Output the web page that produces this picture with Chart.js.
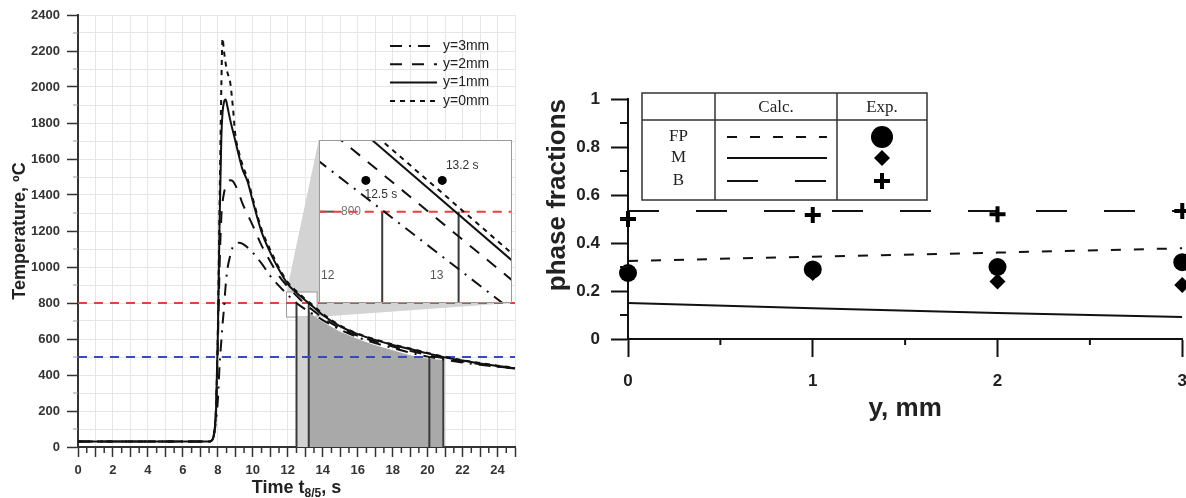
<!DOCTYPE html>
<html>
<head>
<meta charset="utf-8">
<script src="https://cdn.jsdelivr.net/npm/chart.js@4.4.1/dist/chart.umd.min.js"></script>
<style>
  html, body { margin: 0; padding: 0; background: #fff; overflow: hidden; }
  #page { position: relative; width: 1186px; height: 498px; overflow: hidden; }
  #tempChart { position: absolute; left: 0; top: 0; }
  #phaseChart { position: absolute; left: 530px; top: 0; }
  #insetBox { position: absolute; background: #fff; border: 1px solid #9a9a9a; box-sizing: border-box; }
  #insetBox canvas { display: block; }
</style>
</head>
<body>
<div id="page">
  <canvas id="tempChart" width="540" height="498"></canvas>
  <div id="insetBox"><canvas id="insetChart"></canvas></div>
  <canvas id="phaseChart" width="671" height="498"></canvas>
</div>
<script>
const FONT = '"Liberation Sans", Arial, sans-serif';
const SERIF = '"Liberation Serif", "Times New Roman", serif';

// ---- left panel: thermal cycles ----
const timeS = [0, 7.5, 7.7, 7.8, 7.9, 8.0, 8.1, 8.2, 8.27, 8.35, 8.45, 8.55, 8.7, 8.85, 9.0, 9.2, 9.4, 9.7, 10, 10.5,
  11, 11.5, 12, 12.5, 13, 13.5, 14, 15, 16, 17, 18, 19, 20, 21, 22, 23, 24, 25];
const tempY0 = [30, 30, 45, 90, 230, 650, 1350, 2000, 2270, 2200, 2130, 2080, 2030, 1900, 1735, 1640, 1570, 1490, 1380, 1210,
  1095, 995, 915, 865, 822, 782, 740, 675, 630, 598, 570, 547, 523, 500, 482, 466, 452, 440];
const tempY1 = [30, 30, 42, 85, 220, 620, 1250, 1720, 1860, 1915, 1930, 1890, 1820, 1760, 1700, 1620, 1545, 1475, 1365, 1195,
  1080, 985, 905, 857, 815, 775, 733, 670, 627, 595, 567, 544, 520, 498, 480, 464, 450, 438];
const tempY2 = [30, 30, 42, 85, 210, 560, 1000, 1280, 1360, 1410, 1450, 1470, 1482, 1478, 1455, 1410, 1355, 1292, 1230, 1120,
  1030, 950, 890, 840, 793, 755, 718, 660, 618, 586, 558, 534, 511, 492, 475, 460, 447, 436];
const tempY3 = [30, 30, 40, 80, 150, 260, 455, 590, 680, 770, 900, 990, 1060, 1110, 1125, 1135, 1130, 1108, 1080, 1020,
  950, 895, 845, 800, 765, 735, 705, 652, 610, 577, 550, 524, 502, 485, 470, 457, 446, 436];
const curveLabels = ['y=0mm', 'y=1mm', 'y=2mm', 'y=3mm'];
const curveDashes = [[5, 5], [], [12, 10], [12, 7, 2, 7]];

const levels = [800, 500];          // T8 / T5
const t8Times = [12.5, 13.2];       // reaching 800
const t5Times = [20.1, 20.9];       // reaching 500
const shadeT = [13.2, 13.5, 14, 15, 16, 17, 18, 19, 20, 20.9];
const shadeTemp = [755, 728, 695, 640, 600, 565, 537, 510, 492, 483];
const bandTop = 722;

// zoom window on the main plot, and where the magnified panel sits
const zoomT = [11.93, 13.68];
const zoomTemp = [722, 861];
const panelT = [13.77, 24.8];
const panelTemp = [800, 1705];

// magnified panel
const insetT = [11.9, 13.7];
const insetY0 = [910, 763];
const insetY1 = [903, 757];
const insetY2 = [879, 740];
const insetY3 = [845, 714];
const insetDotT = [12.35, 13.05];
const insetDotTemp = [827, 827];
const insetNotes = ['12.5 s', '13.2 s'];

// ---- right panel: phase fractions ----
const yPos = [0, 1, 2, 3];
const fpCalc = [0.325, 0.343, 0.36, 0.378];
const mCalc = [0.15, 0.128, 0.108, 0.092];
const bCalc = [0.533, 0.533, 0.533, 0.533];
const fpExp = [0.275, 0.29, 0.30, 0.32];
const mExp = [0.27, 0.275, 0.24, 0.225];
const bExp = [0.50, 0.517, 0.52, 0.533];
const phaseNames = ['FP', 'M', 'B'];

const pts = (xs, ys) => xs.map((x, i) => ({ x: x, y: ys[i] }));
const lineSet = (data, extra) => Object.assign({
  data: data, borderColor: '#111', borderWidth: 2, pointRadius: 0, fill: false, order: 1
}, extra);
const range = (a, b, step) => {
  const out = [];
  for (let v = a; v <= b + 1e-9; v += step) out.push(+v.toFixed(3));
  return out;
};

// minor tick marks drawn on the outside of an axis
const minorTicks = {
  id: 'minorTicks',
  afterDraw(chart, args, opts) {
    const ctx = chart.ctx;
    (opts.list || []).forEach(m => {
      const sc = chart.scales[m.scale];
      ctx.save();
      ctx.strokeStyle = m.color;
      ctx.lineWidth = m.width;
      ctx.beginPath();
      m.values.forEach(v => {
        const p = sc.getPixelForValue(v);
        if (sc.isHorizontal()) { ctx.moveTo(p, sc.top); ctx.lineTo(p, sc.top + m.length); }
        else { ctx.moveTo(sc.right, p); ctx.lineTo(sc.right - m.length, p); }
      });
      ctx.stroke();
      ctx.restore();
    });
  }
};

// grey zoom wedge from the small window to the magnified panel
const zoomDecor = {
  id: 'zoomDecor',
  beforeDatasetsDraw(chart) {
    const { ctx, scales: { x, y } } = chart;
    const zl = x.getPixelForValue(zoomT[0]), zr = x.getPixelForValue(zoomT[1]);
    const zt = y.getPixelForValue(zoomTemp[1]), zb = y.getPixelForValue(zoomTemp[0]);
    const pl = x.getPixelForValue(panelT[0]), pr = x.getPixelForValue(panelT[1]);
    const pt = y.getPixelForValue(panelTemp[1]), pb = y.getPixelForValue(panelTemp[0]);
    ctx.save();
    ctx.fillStyle = '#d3d3d3';
    ctx.beginPath();
    ctx.moveTo(zl, zb); ctx.lineTo(zl, zt); ctx.lineTo(pl, pt);
    ctx.lineTo(pr, pt); ctx.lineTo(pr, pb); ctx.lineTo(zr, zb);
    ctx.closePath();
    ctx.fill();
    ctx.fillStyle = '#fff';
    ctx.fillRect(zl, zt, zr - zl, zb - zt);
    ctx.strokeStyle = '#9a9a9a';
    ctx.lineWidth = 1;
    ctx.strokeRect(zl, zt, zr - zl, zb - zt);
    ctx.restore();
  }
};

const curveLegend = {
  id: 'curveLegend',
  afterDatasetsDraw(chart) {
    const { ctx, chartArea } = chart;
    const x0 = chartArea.right - 125, y0 = chartArea.top + 31;
    ctx.save();
    ctx.font = '14px ' + FONT;
    ctx.fillStyle = '#222';
    ctx.textBaseline = 'middle';
    for (let k = 0; k < 4; k++) {
      const ds = chart.data.datasets[3 - k];
      const yy = y0 + k * 18.3;
      ctx.strokeStyle = '#111';
      ctx.lineWidth = 2;
      ctx.setLineDash(ds.borderDash);
      ctx.beginPath(); ctx.moveTo(x0, yy); ctx.lineTo(x0 + 47, yy); ctx.stroke();
      ctx.setLineDash([]);
      ctx.fillText(ds.label, x0 + 53, yy);
    }
    ctx.restore();
  }
};

// "Time t8/5, s" with the subscript
const timeTitle = {
  id: 'timeTitle',
  afterDraw(chart) {
    const { ctx, chartArea } = chart;
    const big = 'bold 18px ' + FONT, small = 'bold 12px ' + FONT;
    const parts = [['Time t', big, 0], ['8/5', small, 4], [', s', big, 0]];
    ctx.save();
    ctx.fillStyle = '#222';
    ctx.textBaseline = 'alphabetic';
    let w = 0;
    parts.forEach(p => { ctx.font = p[1]; w += ctx.measureText(p[0]).width; });
    let xx = (chartArea.left + chartArea.right) / 2 - w / 2;
    parts.forEach(p => {
      ctx.font = p[1];
      ctx.fillText(p[0], xx, 493 + p[2]);
      xx += ctx.measureText(p[0]).width;
    });
    ctx.restore();
  }
};

const tempSets = [tempY0, tempY1, tempY2, tempY3].map((ys, i) => lineSet(pts(timeS, ys), {
  label: curveLabels[i], borderDash: curveDashes[i], cubicInterpolationMode: 'monotone'
}));
const guideSets = [
  lineSet(pts([0, 25], [levels[0], levels[0]]), { borderColor: '#f03c3c', borderDash: [9, 7], order: 2 }),
  lineSet(pts([0, 25], [levels[1], levels[1]]), { borderColor: '#3c46c8', borderDash: [9, 7], order: 2 })
];
t8Times.forEach(t => guideSets.push(lineSet(pts([t, t], [0, levels[0]]), { borderColor: '#3a3a3a', order: 3 })));
t5Times.forEach(t => guideSets.push(lineSet(pts([t, t], [0, levels[1]]), { borderColor: '#3a3a3a', order: 3 })));
const fillSets = [
  lineSet(pts(t8Times, [bandTop, bandTop]), { borderWidth: 0, fill: 'origin', backgroundColor: '#d3d3d3', order: 5 }),
  lineSet(pts(shadeT, shadeTemp), { borderWidth: 0, fill: 'origin', backgroundColor: '#a9a9a9', order: 4 })
];

const tickFont = { family: FONT, size: 13, weight: 'bold' };
const tempChart = new Chart(document.getElementById('tempChart'), {
  type: 'line',
  data: { datasets: tempSets.concat(guideSets, fillSets) },
  options: {
    responsive: false,
    animation: false,
    events: [],
    layout: { autoPadding: false, padding: { left: 0, top: 15, right: 25, bottom: 0 } },
    plugins: {
      legend: { display: false },
      tooltip: { enabled: false },
      minorTicks: { list: [
        { scale: 'x', values: range(0.5, 24.5, 1), length: 6, color: '#333', width: 1.5 },
        { scale: 'y', values: range(100, 2300, 200), length: 5, color: '#999', width: 1 }
      ] }
    },
    scales: {
      x: {
        type: 'linear', min: 0, max: 25,
        afterFit: s => { s.height = 51; },
        border: { color: '#333', width: 2 },
        grid: { color: '#e6e6e6', tickColor: '#333', tickLength: 10, tickWidth: 1.5 },
        ticks: { stepSize: 1, autoSkip: false, maxRotation: 0, padding: 6, color: '#333', font: tickFont,
          callback: v => (v % 2 === 0 && v < 25 ? v : '') }
      },
      y: {
        min: 0, max: 2400,
        afterFit: s => { s.width = 78; },
        border: { color: '#333', width: 2 },
        grid: { color: '#e6e6e6', tickLength: 11, tickWidth: 1.5,
          tickColor: c => (c.tick && c.tick.value % 200 === 0 ? '#333' : 'rgba(0,0,0,0)') },
        ticks: { stepSize: 100, autoSkip: false, padding: 7, color: '#333', font: tickFont,
          callback: v => (v % 200 === 0 ? v : '') },
        title: { display: true, text: 'Temperature, ºC', color: '#222',
          font: { family: FONT, size: 18, weight: 'bold' }, padding: { top: 9, bottom: 0 } }
      }
    }
  },
  plugins: [zoomDecor, curveLegend, timeTitle, minorTicks]
});

// place the magnified panel over the main plot
const xs = tempChart.scales.x, ys = tempChart.scales.y;
const boxL = Math.round(xs.getPixelForValue(panelT[0])), boxR = Math.round(xs.getPixelForValue(panelT[1]));
const boxT = Math.round(ys.getPixelForValue(panelTemp[1])), boxB = Math.round(ys.getPixelForValue(panelTemp[0]));
const insetBox = document.getElementById('insetBox');
insetBox.style.left = boxL + 'px';
insetBox.style.top = boxT + 'px';
insetBox.style.width = (boxR - boxL) + 'px';
insetBox.style.height = (boxB - boxT) + 'px';
const insetCanvas = document.getElementById('insetChart');
insetCanvas.width = boxR - boxL - 2;
insetCanvas.height = boxB - boxT - 2;

const insetText = {
  id: 'insetText',
  afterDatasetsDraw(chart) {
    const { ctx, chartArea, scales: { x, y } } = chart;
    ctx.save();
    ctx.font = '12px ' + FONT;
    ctx.textAlign = 'center';
    ctx.textBaseline = 'middle';
    ctx.fillStyle = '#333';
    const d0x = x.getPixelForValue(insetDotT[0]), d0y = y.getPixelForValue(insetDotTemp[0]);
    const d1x = x.getPixelForValue(insetDotT[1]), d1y = y.getPixelForValue(insetDotTemp[1]);
    ctx.fillText(insetNotes[0], d0x + 15, d0y + 14);
    ctx.fillText(insetNotes[1], d1x + 20, d1y - 15);
    ctx.fillStyle = '#555';
    ctx.fillText('12', x.getPixelForValue(12), chartArea.bottom - 26);
    ctx.fillText('13', x.getPixelForValue(13), chartArea.bottom - 26);
    ctx.fillStyle = '#777';
    ctx.fillText('800', chartArea.left + 31, y.getPixelForValue(levels[0]));
    ctx.restore();
  }
};

new Chart(insetCanvas, {
  type: 'line',
  data: {
    datasets: [insetY0, insetY1, insetY2, insetY3].map((v, i) => lineSet(pts(insetT, v), { borderDash: curveDashes[i] }))
      .concat([
        lineSet(pts(insetT, [levels[0], levels[0]]), { borderColor: '#f03c3c', borderDash: [9, 7], order: 2 }),
        lineSet(pts([t8Times[0], t8Times[0]], [zoomTemp[0], levels[0]]), { borderColor: '#3a3a3a', order: 3 }),
        lineSet(pts([t8Times[1], t8Times[1]], [zoomTemp[0], levels[0]]), { borderColor: '#3a3a3a', order: 3 }),
        lineSet(pts([zoomT[0], 12.06], [levels[0], levels[0]]), { borderColor: '#555', order: 3 }),
        lineSet(pts(insetDotT, insetDotTemp), { showLine: false, pointRadius: 4.5, pointBackgroundColor: '#000',
          pointBorderColor: '#000', pointBorderWidth: 0, order: 0 })
      ])
  },
  options: {
    responsive: false,
    animation: false,
    events: [],
    layout: { autoPadding: false, padding: 0 },
    plugins: { legend: { display: false }, tooltip: { enabled: false } },
    scales: {
      x: { type: 'linear', display: false, min: zoomT[0], max: zoomT[1] },
      y: { display: false, min: zoomTemp[0], max: zoomTemp[1] }
    }
  },
  plugins: [insetText]
});

// ---- right panel ----
const phaseTable = {
  id: 'phaseTable',
  afterDatasetsDraw(chart) {
    const { ctx, chartArea } = chart;
    const L = chartArea.left + 14, T = chartArea.top - 6, W = 285, H = 107;
    const c1 = L + 73, c2 = L + 195, head = T + 27;
    const rows = [T + 44, T + 65, T + 88];
    const sizes = [11, 8, 8];
    ctx.save();
    ctx.fillStyle = '#fff';
    ctx.fillRect(L, T, W, H);
    ctx.strokeStyle = '#333';
    ctx.lineWidth = 1.5;
    ctx.strokeRect(L, T, W, H);
    ctx.beginPath();
    ctx.moveTo(c1, T); ctx.lineTo(c1, T + H);
    ctx.moveTo(c2, T); ctx.lineTo(c2, T + H);
    ctx.moveTo(L, head); ctx.lineTo(L + W, head);
    ctx.stroke();
    ctx.font = '17px ' + SERIF;
    ctx.textAlign = 'center';
    ctx.textBaseline = 'middle';
    ctx.fillStyle = '#222';
    ctx.fillText('Calc.', (c1 + c2) / 2, T + 15);
    ctx.fillText('Exp.', (c2 + L + W) / 2, T + 15);
    const ds = chart.data.datasets;
    phaseNames.forEach((name, i) => {
      const yy = rows[i];
      const calc = ds[3 + i], exp = ds[i];
      ctx.fillStyle = '#222';
      ctx.fillText(name, (L + c1) / 2, yy);
      ctx.strokeStyle = '#111';
      ctx.lineWidth = 2;
      ctx.setLineDash(calc.borderDash || []);
      ctx.beginPath(); ctx.moveTo(c1 + 12, yy); ctx.lineTo(c2 - 10, yy); ctx.stroke();
      ctx.setLineDash([]);
      ctx.fillStyle = '#000';
      ctx.strokeStyle = '#000';
      ctx.lineWidth = exp.pointBorderWidth || 1;
      Chart.helpers.drawPoint(ctx, { pointStyle: exp.pointStyle, radius: sizes[i],
        borderWidth: exp.pointBorderWidth, rotation: 0 }, (c2 + L + W) / 2, yy);
    });
    ctx.restore();
  }
};

const axisFont = { family: FONT, size: 17, weight: 'bold' };
new Chart(document.getElementById('phaseChart'), {
  type: 'line',
  data: {
    datasets: [
      { label: 'FP exp', data: pts(yPos, fpExp), showLine: false, pointStyle: 'circle', pointRadius: 9,
        pointBackgroundColor: '#000', pointBorderColor: '#000', pointBorderWidth: 0, order: 1, clip: false },
      { label: 'M exp', data: pts(yPos, mExp), showLine: false, pointStyle: 'rectRot', pointRadius: 8,
        pointBackgroundColor: '#000', pointBorderColor: '#000', pointBorderWidth: 0, order: 2, clip: false },
      { label: 'B exp', data: pts(yPos, bExp), showLine: false, pointStyle: 'cross', pointRadius: 8,
        pointBackgroundColor: '#000', pointBorderColor: '#000', pointBorderWidth: 4, order: 1, clip: false },
      lineSet(pts(yPos, fpCalc), { label: 'FP calc', borderDash: [10, 13], order: 3 }),
      lineSet(pts(yPos, mCalc), { label: 'M calc', order: 3 }),
      lineSet(pts(yPos, bCalc), { label: 'B calc', borderDash: [31, 37], order: 3 })
    ]
  },
  options: {
    responsive: false,
    animation: false,
    events: [],
    layout: { autoPadding: false, padding: { left: 0, top: 99, right: 8, bottom: 0 } },
    plugins: {
      legend: { display: false },
      tooltip: { enabled: false },
      minorTicks: { list: [
        { scale: 'x', values: [0.5, 1.5, 2.5], length: 6, color: '#111', width: 2 },
        { scale: 'y', values: [0.1, 0.3, 0.5, 0.7, 0.9], length: 8, color: '#111', width: 2 }
      ] }
    },
    scales: {
      x: {
        type: 'linear', min: 0, max: 3,
        afterFit: s => { s.height = 159; },
        border: { color: '#111', width: 2 },
        grid: { drawOnChartArea: false, tickColor: '#111', tickLength: 18, tickWidth: 2 },
        ticks: { stepSize: 1, maxRotation: 0, padding: 14, color: '#222', font: axisFont },
        title: { display: true, text: 'y, mm', color: '#222',
          font: { family: FONT, size: 26, weight: 'bold' }, padding: { top: 0, bottom: 74 } }
      },
      y: {
        min: 0, max: 1,
        afterFit: s => { s.width = 98; },
        border: { color: '#111', width: 2 },
        grid: { drawOnChartArea: false, tickColor: '#111', tickLength: 17, tickWidth: 2 },
        ticks: { stepSize: 0.2, padding: 11, color: '#222', font: axisFont,
          callback: v => String(Math.round(v * 10) / 10) },
        title: { display: true, text: 'phase fractions', align: 'end', color: '#222',
          font: { family: FONT, size: 26, weight: 'bold' }, padding: { top: 12, bottom: 0 } }
      }
    }
  },
  plugins: [phaseTable, minorTicks]
});
</script>
</body>
</html>
